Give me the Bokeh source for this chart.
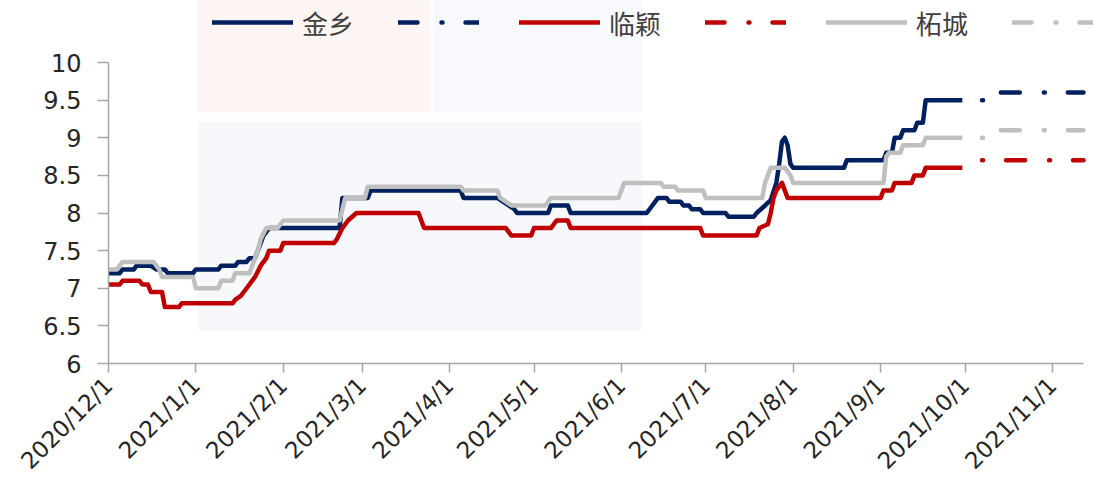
import math
from datetime import datetime
import pandas as pd
from bokeh.plotting import figure
from bokeh.models import FixedTicker, Legend, LegendItem, Range1d, BoxAnnotation
from bokeh.embed import file_html
from bokeh.resources import INLINE

# ---------------- data ----------------
jinxiang_dates = ["2020-12-01", "2020-12-05", "2020-12-06", "2020-12-10", "2020-12-11", "2020-12-16",
                  "2020-12-18", "2020-12-21", "2020-12-22", "2020-12-31", "2021-01-01", "2021-01-09",
                  "2021-01-10", "2021-01-15", "2021-01-16", "2021-01-19", "2021-01-20", "2021-01-22",
                  "2021-01-23", "2021-01-24", "2021-01-25", "2021-01-26", "2021-01-27", "2021-02-21",
                  "2021-02-22", "2021-03-03", "2021-03-04", "2021-04-05", "2021-04-06", "2021-04-18",
                  "2021-04-20", "2021-04-22", "2021-04-24", "2021-04-25", "2021-05-06", "2021-05-07",
                  "2021-05-13", "2021-05-14", "2021-06-10", "2021-06-12", "2021-06-14", "2021-06-17",
                  "2021-06-18", "2021-06-22", "2021-06-23", "2021-06-25", "2021-06-26", "2021-06-29",
                  "2021-06-30", "2021-07-08", "2021-07-09", "2021-07-18", "2021-07-19", "2021-07-22",
                  "2021-07-24", "2021-07-26", "2021-07-27", "2021-07-28", "2021-07-29", "2021-07-30",
                  "2021-07-31", "2021-08-01", "2021-08-19", "2021-08-20", "2021-09-02", "2021-09-03",
                  "2021-09-05", "2021-09-06", "2021-09-08", "2021-09-09", "2021-09-13", "2021-09-14",
                  "2021-09-16", "2021-09-17", "2021-09-30"]
jinxiang_vals = [7.2, 7.2, 7.25, 7.25, 7.3, 7.3,
                 7.25, 7.25, 7.2, 7.2, 7.25, 7.25,
                 7.3, 7.3, 7.35, 7.35, 7.4, 7.4,
                 7.5, 7.6, 7.7, 7.75, 7.8, 7.8,
                 8.2, 8.2, 8.3, 8.3, 8.2, 8.2,
                 8.15, 8.1, 8.05, 8.0, 8.0, 8.1,
                 8.1, 8.0, 8.0, 8.1, 8.2, 8.2,
                 8.15, 8.15, 8.1, 8.1, 8.05, 8.05,
                 8.0, 8.0, 7.95, 7.95, 8.0, 8.1,
                 8.17, 8.4, 8.65, 8.95, 9.0, 8.9,
                 8.65, 8.6, 8.6, 8.7, 8.7, 8.8,
                 8.8, 9.0, 9.0, 9.1, 9.1, 9.2,
                 9.2, 9.5, 9.5]

linying_dates = ["2020-12-01", "2020-12-05", "2020-12-06", "2020-12-12", "2020-12-13", "2020-12-15",
                 "2020-12-16", "2020-12-20", "2020-12-21", "2020-12-26", "2020-12-27", "2021-01-14",
                 "2021-01-15", "2021-01-17", "2021-01-20", "2021-01-22", "2021-01-24", "2021-01-26",
                 "2021-01-27", "2021-01-31", "2021-02-01", "2021-02-19", "2021-02-20", "2021-02-22",
                 "2021-02-24", "2021-02-27", "2021-03-21", "2021-03-23", "2021-04-21", "2021-04-23",
                 "2021-04-30", "2021-05-01", "2021-05-07", "2021-05-09", "2021-05-13", "2021-05-14",
                 "2021-06-29", "2021-06-30", "2021-07-19", "2021-07-20", "2021-07-23", "2021-07-24",
                 "2021-07-25", "2021-07-26", "2021-07-28", "2021-07-30", "2021-09-01", "2021-09-02",
                 "2021-09-05", "2021-09-06", "2021-09-12", "2021-09-13", "2021-09-16", "2021-09-17",
                 "2021-09-30"]
linying_vals = [7.05, 7.05, 7.1, 7.1, 7.05, 7.05,
                6.95, 6.95, 6.75, 6.75, 6.8, 6.8,
                6.85, 6.9, 7.05, 7.15, 7.3, 7.4,
                7.5, 7.5, 7.6, 7.6, 7.65, 7.8,
                7.9, 8.0, 8.0, 7.8, 7.8, 7.7,
                7.7, 7.8, 7.8, 7.9, 7.9, 7.8,
                7.8, 7.7, 7.7, 7.8, 7.85, 8.0,
                8.2, 8.3, 8.4, 8.2, 8.2, 8.3,
                8.3, 8.4, 8.4, 8.5, 8.5, 8.6,
                8.6]

zhecheng_dates = ["2020-12-01", "2020-12-04", "2020-12-06", "2020-12-17", "2020-12-19", "2020-12-20",
                  "2020-12-31", "2021-01-01", "2021-01-09", "2021-01-10", "2021-01-14", "2021-01-15",
                  "2021-01-20", "2021-01-21", "2021-01-23", "2021-01-24", "2021-01-26", "2021-01-30",
                  "2021-02-01", "2021-02-21", "2021-02-23", "2021-03-02", "2021-03-03", "2021-04-05",
                  "2021-04-06", "2021-04-18", "2021-04-19", "2021-04-21", "2021-04-23", "2021-05-05",
                  "2021-05-07", "2021-05-31", "2021-06-02", "2021-06-15", "2021-06-16", "2021-06-20",
                  "2021-06-21", "2021-06-30", "2021-07-01", "2021-07-21", "2021-07-22", "2021-07-24",
                  "2021-07-29", "2021-07-31", "2021-08-01", "2021-09-02", "2021-09-03", "2021-09-04",
                  "2021-09-08", "2021-09-09", "2021-09-16", "2021-09-17", "2021-09-30"]
zhecheng_vals = [7.25, 7.25, 7.35, 7.35, 7.25, 7.15,
                 7.15, 7.0, 7.0, 7.1, 7.1, 7.2,
                 7.2, 7.3, 7.5, 7.65, 7.8, 7.8,
                 7.9, 7.9, 8.2, 8.2, 8.35, 8.35,
                 8.3, 8.3, 8.2, 8.15, 8.1, 8.1,
                 8.2, 8.2, 8.4, 8.4, 8.35, 8.35,
                 8.3, 8.3, 8.2, 8.2, 8.4, 8.6,
                 8.6, 8.5, 8.4, 8.4, 8.75, 8.8,
                 8.8, 8.9, 8.9, 9.0, 9.0]

forecast_dates = ["2021-10-07", "2021-10-09", "2021-10-10", "2021-11-12"]
jinxiang_fc = [9.5, 9.5, 9.6, 9.6]
linying_fc = [8.7, 8.7, 8.7, 8.7]
zhecheng_fc = [9.0, 9.0, 9.1, 9.1]

series_names = ["金乡", "临颖", "柘城"]
x_tick_labels = ["2020/12/1", "2021/1/1", "2021/2/1", "2021/3/1", "2021/4/1", "2021/5/1",
                 "2021/6/1", "2021/7/1", "2021/8/1", "2021/9/1", "2021/10/1", "2021/11/1"]
y_ticks = [6, 6.5, 7, 7.5, 8, 8.5, 9, 9.5, 10]
y_tick_labels = ["6", "6.5", "7", "7.5", "8", "8.5", "9", "9.5", "10"]
x_start, x_end = "2020-12-01", "2021-11-12"

# ---------------- layout constants ----------------
W, H = 1094, 488
LEFT, BOTTOM = 108, 125          # frame spans to the top/right edge; axes limited by bounds
AXIS_RIGHT = 1083                # where the x axis line ends
AXIS_TOP = 62                    # where the y axis line ends (value 10)

EPOCH = datetime(1970, 1, 1)


def ms(d):
    return (d - EPOCH).total_seconds() * 1000.0


def to_dt(strs):
    return pd.to_datetime(strs)


xs = ms(datetime.strptime(x_start, "%Y-%m-%d"))
xe = ms(datetime.strptime(x_end, "%Y-%m-%d"))
frame_w = W - LEFT
frame_h = H - BOTTOM
xr_end = xs + (xe - xs) * frame_w / (AXIS_RIGHT - LEFT)
yr_end = y_ticks[0] + (y_ticks[-1] - y_ticks[0]) * frame_h / (frame_h - AXIS_TOP)


def px_x(px):  # page pixel -> x data (for the faint background watermark only)
    return xs + (px - LEFT) / (AXIS_RIGHT - LEFT) * (xe - xs)


def px_y(py):
    return y_ticks[0] + (frame_h - py) / (frame_h - AXIS_TOP) * (y_ticks[-1] - y_ticks[0])


BLUE, RED, GRAY = "#002060", "#C00000", "#BFBFBF"
AXIS = "#A6A6A6"
TXT = "#262626"

p = figure(width=W, height=H, x_axis_type="datetime",
           output_backend="svg", toolbar_location=None,
           min_border_left=LEFT, min_border_right=0,
           min_border_top=0, min_border_bottom=BOTTOM,
           x_range=Range1d(xs, xr_end),
           y_range=Range1d(y_ticks[0], yr_end))
p.outline_line_color = None
p.xgrid.visible = False
p.ygrid.visible = False
p.background_fill_color = "white"
p.border_fill_color = "white"

# faint watermark blocks
for (l, r, t, b, c) in [(197, 430, 0, 112, "#FDF4F4"),
                        (433, 642, 0, 112, "#F8F9FC"),
                        (197, 642, 122, 330, "#F7F8FB")]:
    p.add_layout(BoxAnnotation(left=px_x(l), right=px_x(r), top=px_y(t), bottom=px_y(b),
                               fill_color=c, fill_alpha=1.0, line_color=None, level="underlay"))

# x axis
x_ticks = [ms(datetime.strptime(s, "%Y/%m/%d")) for s in x_tick_labels]
p.xaxis.ticker = FixedTicker(ticks=x_ticks)
p.xaxis.bounds = (xs, xe)
p.xaxis.major_label_overrides = {t: l for t, l in zip(x_ticks, x_tick_labels)}
p.xaxis.major_label_orientation = math.pi / 4
p.xaxis.major_tick_in = 0
p.xaxis.major_tick_out = 9
p.xaxis.minor_tick_line_color = None
p.xaxis.axis_line_color = AXIS
p.xaxis.axis_line_width = 1.5
p.xaxis.major_tick_line_color = AXIS
p.xaxis.major_tick_line_width = 1.5
p.xaxis.major_label_text_font = "DejaVu Sans"
p.xaxis.major_label_text_font_size = "23px"
p.xaxis.major_label_text_color = TXT
p.xaxis.major_label_standoff = 9

# y axis
p.yaxis.ticker = FixedTicker(ticks=y_ticks)
p.yaxis.bounds = (y_ticks[0], y_ticks[-1])
p.yaxis.major_label_overrides = {t: l for t, l in zip(y_ticks, y_tick_labels)}
p.yaxis.major_tick_in = 0
p.yaxis.major_tick_out = 11
p.yaxis.minor_tick_line_color = None
p.yaxis.axis_line_color = AXIS
p.yaxis.axis_line_width = 1.5
p.yaxis.major_tick_line_color = AXIS
p.yaxis.major_tick_line_width = 1.5
p.yaxis.major_label_text_font = "DejaVu Sans"
p.yaxis.major_label_text_font_size = "24px"
p.yaxis.major_label_text_color = TXT
p.yaxis.major_label_standoff = 16

LW = 4.5
DD_PLOT = "1 23 19 24"
DD_LEG = "19 24 1 23"

r_blue = p.line(to_dt(jinxiang_dates), jinxiang_vals, line_color=BLUE, line_width=LW, line_join="round")
r_red = p.line(to_dt(linying_dates), linying_vals, line_color=RED, line_width=LW, line_join="round")
r_gray = p.line(to_dt(zhecheng_dates), zhecheng_vals, line_color=GRAY, line_width=LW, line_join="round")

for vals, col in [(jinxiang_fc, BLUE), (linying_fc, RED), (zhecheng_fc, GRAY)]:
    p.line(to_dt(forecast_dates), vals, line_color=col, line_width=LW,
           line_dash=DD_PLOT, line_cap="round", line_join="round")

# legend-only renderers (one NaN point, so nothing is drawn in the plot)
nan = float("nan")
items = []
for name, col in zip(series_names, [BLUE, RED, GRAY]):
    rs = p.line([nan], [nan], line_color=col, line_width=LW, line_cap="round")
    rd = p.line([nan], [nan], line_color=col, line_width=LW, line_dash=DD_LEG, line_cap="round")
    items.append(LegendItem(label=name + "\u2002", renderers=[rs]))
    items.append(LegendItem(label="", renderers=[rd]))

LEG_MID = 22          # legend row centre, px from the top
LEG_H = 40
legend = Legend(items=items, location=(212 - LEFT, frame_h - LEG_MID - LEG_H // 2),
                orientation="horizontal",
                glyph_width=81, glyph_height=LEG_H, label_height=LEG_H, label_width=0,
                label_standoff=9, padding=0, margin=0, spacing=31,
                border_line_alpha=0, background_fill_alpha=0,
                label_text_font="Noto Sans CJK SC", label_text_font_size="26px",
                label_text_color="#404040")
p.add_layout(legend, "center")

open("out.html", "w").write(file_html(p, INLINE))
